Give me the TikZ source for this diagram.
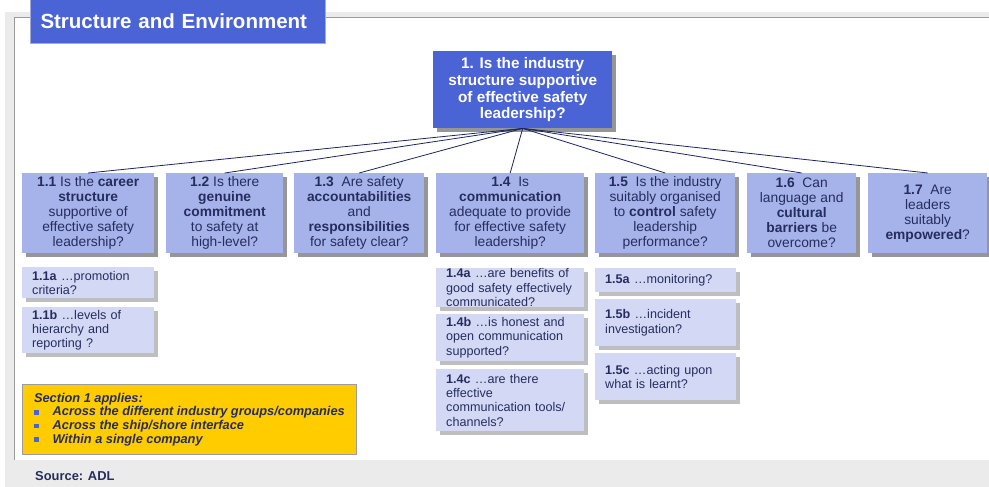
\documentclass[tikz,border=0pt]{standalone}
\usepackage{fontspec}
\setmainfont{Liberation Sans}
\usetikzlibrary{shadows}
\definecolor{mainblue}{HTML}{4A63D5}
\definecolor{lvltwocol}{HTML}{A6B3EA}
\definecolor{lvlthreecol}{HTML}{D3D9F5}
\definecolor{navy}{HTML}{262D5E}
\definecolor{linecol}{HTML}{1B2560}
\definecolor{shadowdark}{HTML}{969696}
\definecolor{shadowlight}{HTML}{BEBEBE}
\definecolor{framegrey}{HTML}{EBEBEB}
\definecolor{frameline}{HTML}{9A9A9A}
\definecolor{titleborder}{HTML}{A3A9D9}
\definecolor{yellowbox}{HTML}{FFCC00}
\definecolor{yellowborder}{HTML}{9C9C9C}
\newcommand{\sqb}{\makebox[18.7pt][l]{\textcolor{mainblue}{\rule[1.3pt]{4.5pt}{4.5pt}}}}
\begin{document}
\begin{tikzpicture}[x=1pt,y=-1pt,
  mainbox/.style={fill=mainblue, text=white, anchor=north west, inner sep=0pt,
    font=\fontsize{15.3}{16.7}\selectfont\bfseries, align=center,
    drop shadow={shadow xshift=4pt, shadow yshift=-4pt, fill=shadowdark, opacity=1}},
  lvltwo/.style={fill=lvltwocol, text=navy, anchor=north west, inner sep=0pt,
    minimum height=80pt, font=\fontsize{13.8}{15}\selectfont, align=center,
    drop shadow={shadow xshift=4pt, shadow yshift=-4pt, fill=shadowdark, opacity=1}},
  lvlthree/.style={fill=lvlthreecol, text=navy, anchor=north west, inner ysep=0pt, inner xsep=10pt,
    font=\fontsize{12.6}{14.3}\selectfont, align=left,
    drop shadow={shadow xshift=4pt, shadow yshift=-4pt, fill=shadowlight, opacity=1}},
  conn/.style={draw=linecol, line width=0.8pt}
]
\useasboundingbox (0,0) rectangle (989,487);
% frame
\fill[framegrey] (5,12) rectangle (989,487);
\fill[white] (15,18) rectangle (989,460);
\draw[frameline, line width=1.2pt] (14.5,460) -- (14.5,17.5) -- (989,17.5);
% title
\node[fill=mainblue, draw=titleborder, line width=1pt, text=white, anchor=north west,
  inner ysep=0pt, inner xsep=10pt, text width=275pt, minimum height=45pt, align=left,
  font=\fontsize{20.5}{24}\selectfont\bfseries] (title) at (30,-2) {Structure and Environment};
% main
\node[mainbox, minimum width=179pt, minimum height=77pt] (main) at (433,51)
  {1. Is the industry\\structure supportive\\of effective safety\\leadership?};
% level two
\node[lvltwo, minimum width=132pt] (n11) at (22,173)
  {\textbf{1.1} Is the \textbf{career}\\\textbf{structure}\\supportive of\\effective safety\\leadership?};
\node[lvltwo, minimum width=117pt] (n12) at (166,173)
  {\textbf{1.2} Is there\\\textbf{genuine}\\\textbf{commitment}\\to safety at\\high-level?};
\node[lvltwo, minimum width=130pt] (n13) at (294,173)
  {\textbf{1.3}\ \ Are safety\\\textbf{accountabilities}\\and\\\textbf{responsibilities}\\for safety clear?};
\node[lvltwo, minimum width=148pt] (n14) at (436,173)
  {\textbf{1.4}\ \ Is\\\textbf{communication}\\adequate to provide\\for effective safety\\leadership?};
\node[lvltwo, minimum width=140pt] (n15) at (595,173)
  {\textbf{1.5}\ \ Is the industry\\suitably organised\\to \textbf{control} safety\\leadership\\performance?};
\node[lvltwo, minimum width=109pt] (n16) at (747,173)
  {\textbf{1.6}\ \ Can\\language and\\\textbf{cultural}\\\textbf{barriers} be\\overcome?};
\node[lvltwo, minimum width=119pt] (n17) at (868,173)
  {\textbf{1.7}\ \ Are\\leaders\\suitably\\\textbf{empowered}?};
% connectors
\foreach \n in {n11,n12,n13,n14,n15,n16,n17}
  \draw[conn] (main.south) -- (\n.north);
% level three
\node[lvlthree, text width=112pt, minimum height=31pt] (n11a) at (22,267)
  {\textbf{1.1a} …promotion\\criteria?};
\node[lvlthree, text width=112pt, minimum height=46pt] (n11b) at (22,307)
  {\textbf{1.1b} …levels of\\hierarchy and\\reporting ?};
\node[lvlthree, text width=128pt, minimum height=39pt] (n14a) at (436,268)
  {\textbf{1.4a} …are benefits of\\good safety effectively\\communicated?};
\node[lvlthree, text width=128pt, minimum height=47pt] (n14b) at (436,314)
  {\textbf{1.4b} …is honest and\\open communication\\supported?};
\node[lvlthree, text width=128pt, minimum height=62pt] (n14c) at (436,369)
  {\textbf{1.4c} …are there\\effective\\communication tools/\\channels?};
\node[lvlthree, text width=121pt, minimum height=24pt] (n15a) at (595,268)
  {\textbf{1.5a} …monitoring?};
\node[lvlthree, text width=121pt, minimum height=47pt] (n15b) at (595,299)
  {\textbf{1.5b} …incident\\investigation?};
\node[lvlthree, text width=121pt, minimum height=47pt] (n15c) at (595,353)
  {\textbf{1.5c} …acting upon\\what is learnt?};
% yellow box
\node[fill=yellowbox, draw=yellowborder, line width=0.8pt, text=navy, anchor=north west,
  inner sep=0pt, minimum width=334pt, minimum height=70pt, align=left,
  font=\fontsize{12.8}{13.6}\selectfont\bfseries\itshape] (note) at (22,384)
  {Section 1 applies:\\
   \sqb Across the different industry groups/companies\\
   \sqb Across the ship/shore interface\\
   \sqb Within a single company};
% source
\node[anchor=west, inner sep=0pt, text=navy, font=\fontsize{12.9}{15}\selectfont\bfseries]
  (source) at (35,476) {Source: ADL};
\end{tikzpicture}
\end{document}
